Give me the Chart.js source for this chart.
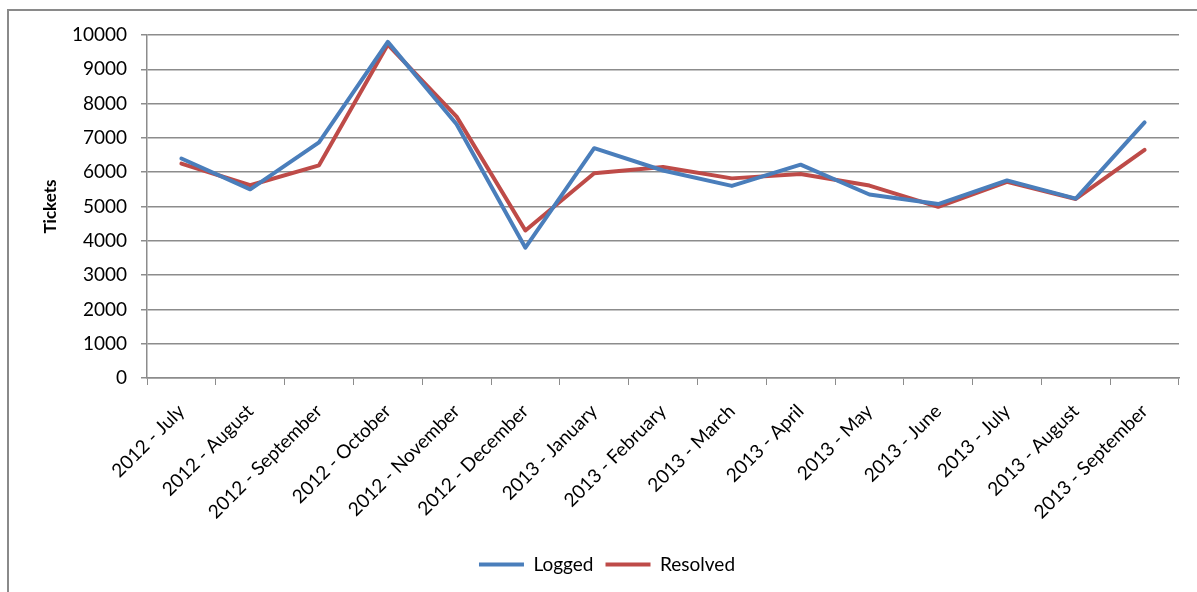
<!DOCTYPE html>
<html>
<head>
<meta charset="utf-8">
<script src="https://cdn.jsdelivr.net/npm/chart.js@4"></script>
<style>
  html, body { margin: 0; padding: 0; background: #fff; overflow: hidden; }
  #wrap { position: absolute; left: 0; top: 0; width: 1197px; height: 592px; }
</style>
</head>
<body>
<div id="wrap"><canvas id="c" width="1197" height="592"></canvas></div>
<script>
const categories = [
  "2012 - July", "2012 - August", "2012 - September", "2012 - October",
  "2012 - November", "2012 - December", "2013 - January", "2013 - February",
  "2013 - March", "2013 - April", "2013 - May", "2013 - June",
  "2013 - July", "2013 - August", "2013 - September"
];
const logged   = [6400, 5500, 6870, 9800, 7400, 3800, 6700, 6050, 5600, 6220, 5350, 5070, 5760, 5230, 7450];
const resolved = [6250, 5620, 6200, 9720, 7620, 4300, 5970, 6150, 5820, 5950, 5610, 4990, 5720, 5220, 6650];
const yTicks = [0, 1000, 2000, 3000, 4000, 5000, 6000, 7000, 8000, 9000, 10000];

const FONT = "Lato, 'Open Sans', sans-serif";
const GRID = "#8c8c8c";

const frame = {
  id: "frame",
  afterDraw(chart) {
    const ctx = chart.ctx;
    ctx.save();
    ctx.strokeStyle = "#8a8a8a";
    ctx.lineWidth = 2;
    ctx.beginPath();
    ctx.moveTo(8, 600);
    ctx.lineTo(8, 10);
    ctx.lineTo(1200, 10);
    ctx.stroke();
    ctx.restore();
  }
};

new Chart(document.getElementById("c"), {
  type: "line",
  data: {
    labels: categories,
    datasets: [
      { label: "Logged", data: logged, borderColor: "#4a7ebb", backgroundColor: "#4a7ebb",
        borderWidth: 4, pointRadius: 0, tension: 0, borderJoinStyle: "round", borderCapStyle: "round" },
      { label: "Resolved", data: resolved, borderColor: "#be4b48", backgroundColor: "#be4b48",
        borderWidth: 4, pointRadius: 0, tension: 0, borderJoinStyle: "round", borderCapStyle: "round" }
    ]
  },
  options: {
    responsive: false,
    animation: false,
    layout: { padding: { left: 35, right: 18, top: 35, bottom: 8 } },
    plugins: {
      legend: {
        position: "bottom",
        labels: {
          usePointStyle: true,
          pointStyle: "line",
          boxWidth: 37,
          boxHeight: 4,
          pointStyleWidth: 45,
          padding: 12,
          color: "#000",
          font: { family: FONT, size: 19 }
        }
      },
      tooltip: { enabled: false }
    },
    scales: {
      x: {
        offset: true,
        grid: { display: true, drawOnChartArea: false, drawTicks: true, tickLength: 7, offset: true, color: GRID, lineWidth: 1 },
        border: { color: GRID, width: 1.5 },
        ticks: { color: "#000", font: { family: FONT, size: 19 }, maxRotation: 45, minRotation: 45, autoSkip: false, padding: 15 },
        afterFit(scale) { scale.height = 165; }
      },
      y: {
        min: 0, max: 10000,
        afterBuildTicks(scale) { scale.ticks = yTicks.map(v => ({ value: v })); },
        grid: { color: GRID, lineWidth: 1.5, tickLength: 6 },
        border: { color: GRID, width: 1.5 },
        ticks: { color: "#000", font: { family: FONT, size: 19 }, padding: 14, callback: (v) => String(v) },
        title: { display: true, text: "Tickets", color: "#000", font: { family: FONT, size: 17, weight: "bold" }, padding: { top: 5, bottom: 0 } },
        afterFit(scale) { scale.width = 112; }
      }
    }
  },
  plugins: [frame]
});
</script>
</body>
</html>
